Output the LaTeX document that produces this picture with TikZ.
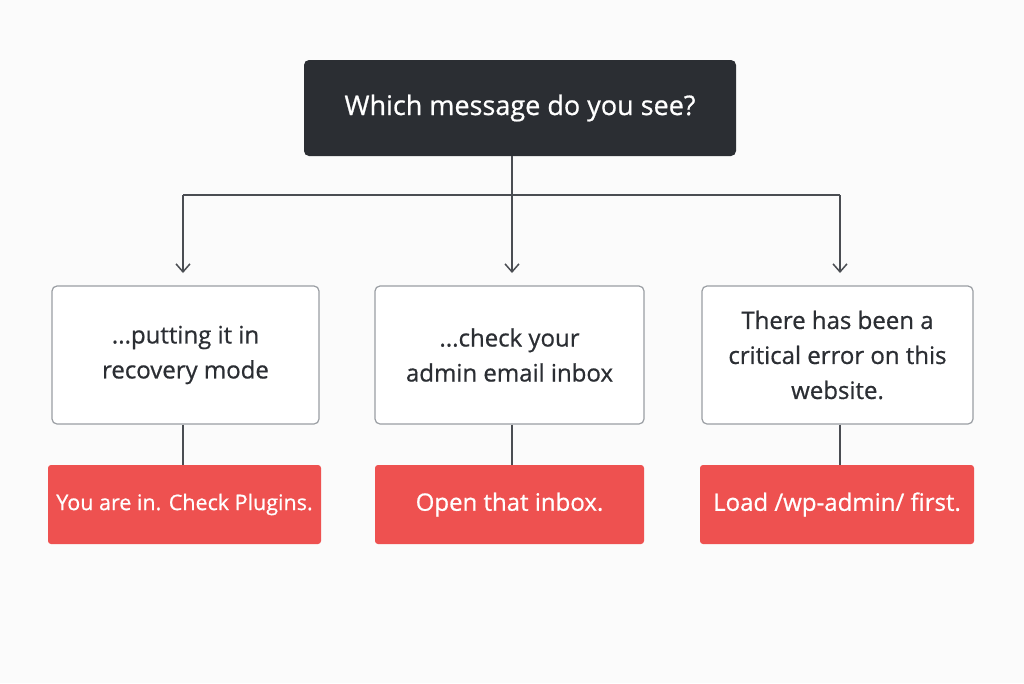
\documentclass[tikz,border=0pt]{standalone}
\usepackage{fontspec}
\setmainfont{Open Sans}[UprightFeatures={FakeBold=0.7}]
\usetikzlibrary{arrows.meta}
\definecolor{dark}{HTML}{2B2E33}
\definecolor{redb}{HTML}{EE5150}
\definecolor{bord}{HTML}{9A9EA3}
\definecolor{ln}{HTML}{4A4D52}
\begin{document}
\begin{tikzpicture}[x=1pt,y=-1pt,
  box/.style={draw=bord,line width=1.2pt,rounded corners=5pt,fill=white,minimum height=138pt,align=center,font=\fontsize{24}{35}\selectfont,text=dark},
  red/.style={fill=redb,rounded corners=3pt,minimum height=79pt,inner xsep=0pt,text=white,font=\fontsize{24}{28}\selectfont},
  conn/.style={ln,line width=1.5pt},
  arr/.style={conn,-{Straight Barb[length=8pt,width=14pt]}}]
\fill[white!97!gray] (0,0) rectangle (1024,683);
\useasboundingbox (0,0) rectangle (1024,683);
\node[fill=dark,rounded corners=5pt,minimum width=432pt,minimum height=96pt,text=white,font=\fontsize{27}{30}\selectfont] (top) at (520,108) {Which message do you see?};
\node[box,minimum width=267pt] (b1) at (185.5,355) {...putting it in\\recovery mode};
\node[box,minimum width=269pt] (b2) at (509.5,355) {...check your\\admin email inbox};
\node[box,minimum width=271pt] (b3) at (837.5,355) {There has been a\\critical error on this\\website.};
\node[red,minimum width=273pt,font=\fontsize{21.5}{28}\selectfont] (r1) at (184.5,504.5) {You are in. Check Plugins.};
\node[red,minimum width=269pt] (r2) at (509.5,504.5) {Open that inbox.};
\node[red,minimum width=274pt] (r3) at (837,504.5) {Load /wp-admin/ first.};
\coordinate (j) at (512,195);
\coordinate (jl) at (183,195);
\coordinate (jr) at (840,195);
\coordinate (al) at (183,273);
\coordinate (am) at (512,273);
\coordinate (ar) at (840,273);
\draw[conn] (top.south -| j) -- (j);
\draw[conn] (jl) -- (jr);
\draw[arr] (jl) -- (al);
\draw[arr] (j) -- (am);
\draw[arr] (jr) -- (ar);
\draw[conn] (b1.south -| jl) -- (r1.north -| jl);
\draw[conn] (b2.south -| j) -- (r2.north -| j);
\draw[conn] (b3.south -| jr) -- (r3.north -| jr);
\end{tikzpicture}
\end{document}
